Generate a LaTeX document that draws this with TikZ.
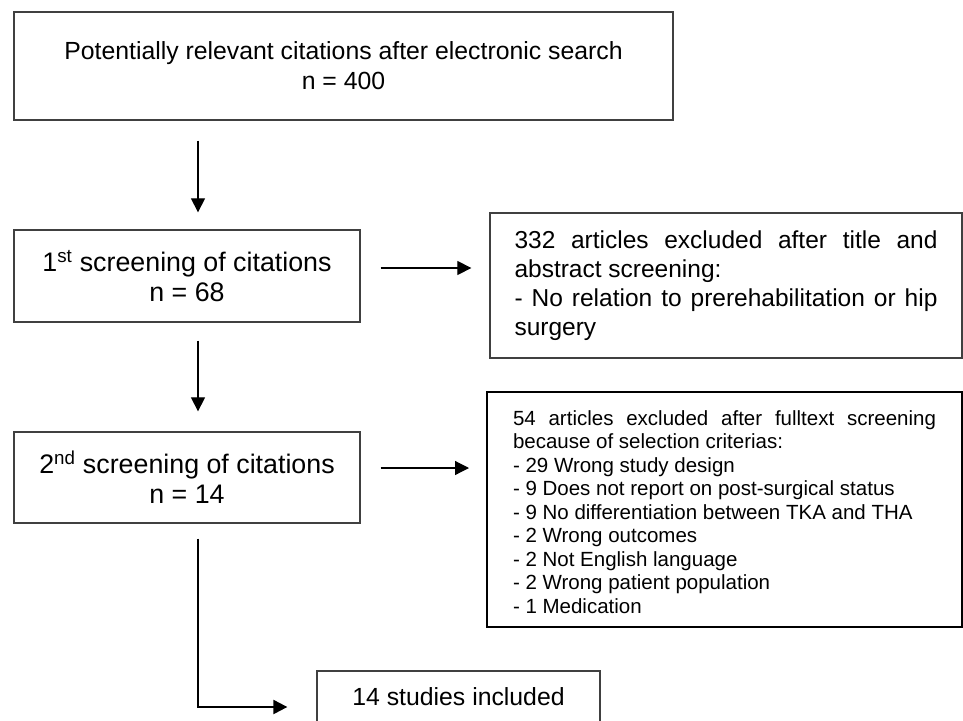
\documentclass[tikz,border=0pt]{standalone}
\usepackage{fontspec}
\setmainfont{Liberation Sans}
\usetikzlibrary{arrows.meta}
\definecolor{boxgrey}{HTML}{404040}
\hyphenpenalty=10000
\exhyphenpenalty=10000
\tolerance=10000

\begin{document}
\begin{tikzpicture}[x=1pt,y=-1pt]
    \tikzstyle{stage box}=[draw=boxgrey, line width=1.3pt, inner sep=0pt, align=center, font=\fontsize{24.8}{30}\selectfont];
    \tikzstyle{excl box}=[draw=boxgrey, line width=1.3pt, inner xsep=0pt, align=justify, text width=423pt, font=\fontsize{24.5}{29}\selectfont];
    \tikzstyle{list box}=[draw=black, line width=2pt, inner xsep=0pt, align=justify, text width=423pt, font=\fontsize{20.5}{23.5}\selectfont];
    \tikzstyle{flow}=[-{Triangle[length=14pt,width=14pt]}, line width=1.2pt];

    \useasboundingbox (0,0) rectangle (963,720);

    \node[stage box, minimum width=659pt, minimum height=108pt] (search) at (343.5,66) {Potentially relevant citations after electronic search\\n = 400};

    \node[stage box, font=\fontsize{26.8}{30}\selectfont, minimum width=346pt, minimum height=92pt] (first) at (187,276) {1\textsuperscript{st} screening of citations\\n = 68};
    \node[excl box, minimum width=472pt, minimum height=145pt] (excl1) at (726,285.5) {332 articles excluded after title and abstract screening:\\- No relation to prerehabilitation or hip surgery};

    \node[stage box, font=\fontsize{26.8}{30}\selectfont, minimum width=346pt, minimum height=91pt] (second) at (187,477.5) {2\textsuperscript{nd} screening of citations\\n = 14};
    \node[list box, minimum width=475pt, minimum height=235pt] (excl2) at (724.5,509.5) {\\[-4pt]54 articles excluded after fulltext screening because of selection criterias:\\
        - 29 Wrong study design\\
        - 9 Does not report on post-surgical status\\
        - 9 No differentiation between TKA and THA\\
        - 2 Wrong outcomes\\
        - 2 Not English language\\
        - 2 Wrong patient population\\
        - 1 Medication};

    \node[stage box, minimum width=283pt, minimum height=52pt] (incl) at (458.5,697) {14 studies included};

    \draw[flow, shorten <=20pt, shorten >=17pt] ([xshift=11pt]first.north |- search.south) -- ([xshift=11pt]first.north);
    \draw[flow, shorten <=18pt, shorten >=20pt] ([xshift=11pt]first.south) -- ([xshift=11pt]second.north);
    \draw[flow, shorten <=20pt, shorten >=18pt] ([yshift=8pt]first.east) -- ([yshift=8pt]first.east -| excl1.west);
    \draw[flow, shorten <=20pt, shorten >=17pt] ([yshift=9.5pt]second.east) -- ([yshift=9.5pt]second.east -| excl2.west);
    \draw[flow, line width=2.2pt, shorten <=15pt, shorten >=29pt] ([xshift=11pt]second.south) |- ([yshift=-10pt]incl.west);

\end{tikzpicture}
\end{document}
